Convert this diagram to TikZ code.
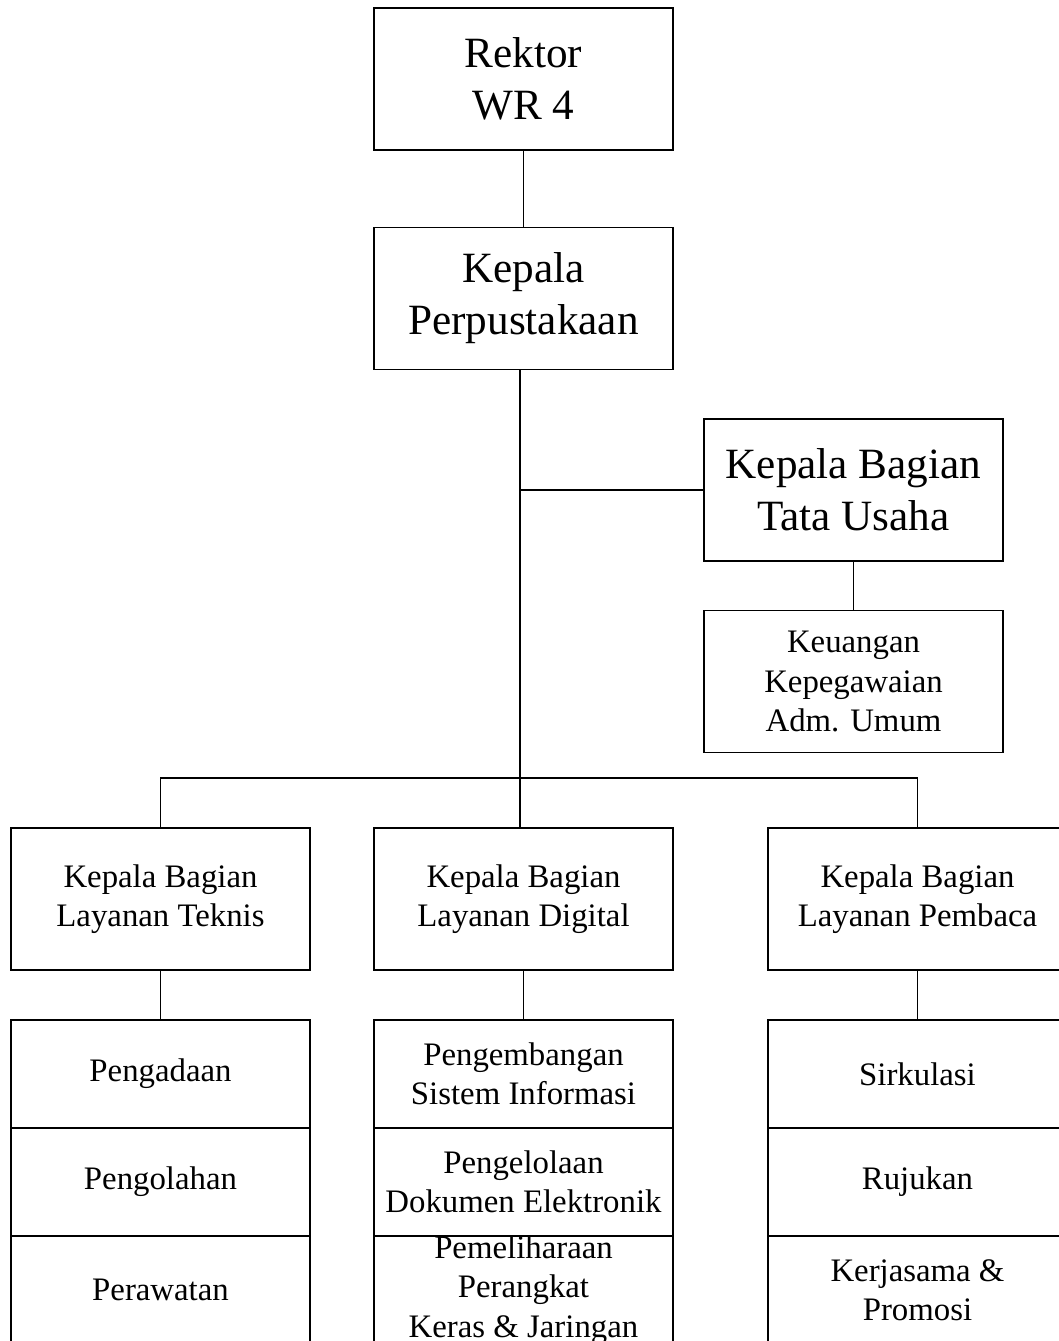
\documentclass[tikz,border=0pt]{standalone}
\usepackage{fontspec}
\setmainfont{Liberation Serif}
\usepackage{tikz}
\usetikzlibrary{calc,positioning}
\tikzset{>=stealth}
\tikzset{
  bigbox/.style={draw=black, line width=0.75pt, minimum width=149.5pt, minimum height=71pt,
    inner sep=0pt, align=center, font=\fontsize{21.6}{26}\selectfont},
  unitbox/.style={draw=black, line width=0.75pt, minimum width=149.5pt, minimum height=71pt,
    inner sep=0pt, align=center, font=\fontsize{16.4}{19.6}\selectfont},
  subbox/.style={unitbox, minimum height=54pt},
  link/.style={draw=black, line width=0.7pt}
}

\begin{document}
\begin{tikzpicture}[x=0.5pt,y=-0.5pt]

            \useasboundingbox (0,0) rectangle (1059,1341);
            \clip (0,0) rectangle (1059,1341);

            % Top of the chart
            \node[bigbox] (rektor) at (523.5,79) {Rektor\\WR 4};
            \node[bigbox] (kepala) at (523.5,298.5) {Kepala\\Perpustakaan};

            % Tata usaha branch
            \node[bigbox] (tu) at (853.5,490) {Kepala Bagian\\Tata Usaha};
            \node[unitbox] (keu) at (853.5,681.5) {Keuangan\\Kepegawaian\\Adm. Umum};

            % Heads of the three services
            \node[unitbox] (teknis) at (160.5,899) {Kepala Bagian\\Layanan Teknis};
            \node[unitbox] (digital) at (523.5,899) {Kepala Bagian\\Layanan Digital};
            \node[unitbox] (pembaca) at (917.5,899) {Kepala Bagian\\Layanan Pembaca};

            % Units under each service
            \node[subbox] (pengadaan) at (160.5,1074) {Pengadaan};
            \node[subbox] (pengolahan) at (160.5,1182) {Pengolahan};
            \node[subbox] (perawatan) at (160.5,1290) {Perawatan};

            \node[subbox] (sisinfo) at (523.5,1074) {Pengembangan\\Sistem Informasi};
            \node[subbox] (dokumen) at (523.5,1182) {Pengelolaan\\Dokumen Elektronik};
            \node[subbox] (perangkat) at (523.5,1290) {Pemeliharaan\\Perangkat\\Keras \& Jaringan};

            \node[subbox] (sirkulasi) at (917.5,1074) {Sirkulasi};
            \node[subbox] (rujukan) at (917.5,1182) {Rujukan};
            \node[subbox] (kerjasama) at (917.5,1290) {Kerjasama \&\\Promosi};

            % Connecting lines
            \coordinate (bus) at (520,778);
            \draw[link] (rektor) -- (kepala);
            \draw[link] (kepala.south -| bus) -- (bus);
            \draw[link] (tu.west -| bus) -- (tu.west);
            \draw[link] (tu) -- (keu);
            \draw[link] (teknis.north) |- (bus) -| (pembaca.north);
            \draw[link] (bus) -- (digital.north -| bus);
            \draw[link] (teknis) -- (pengadaan);
            \draw[link] (digital) -- (sisinfo);
            \draw[link] (pembaca) -- (sirkulasi);

        \end{tikzpicture}
\end{document}
